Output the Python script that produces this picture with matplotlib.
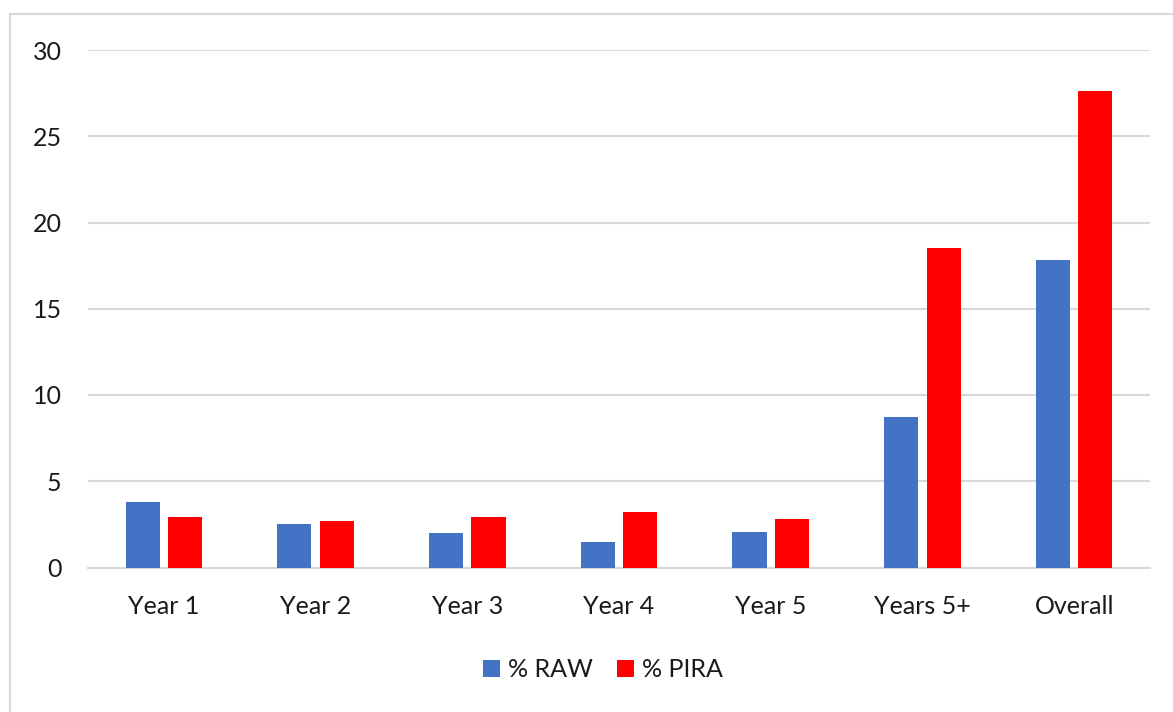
import numpy as np
import matplotlib.pyplot as plt
from matplotlib.patches import Rectangle

categories = ["Year 1", "Year 2", "Year 3", "Year 4", "Year 5", "Years 5+", "Overall"]
raw = [3.8, 2.5, 2.0, 1.5, 2.05, 8.7, 17.8]
pira = [2.95, 2.7, 2.95, 3.2, 2.8, 18.55, 27.6]

plt.rcParams['font.family'] = ['Lato', 'DejaVu Sans']

fig = plt.figure(figsize=(11.73, 7.12), dpi=100)
# outer chart frame
fig.patches.append(Rectangle((10 / 1173, -0.1), 1.2, 1 - 14 / 712 + 0.1,
                             transform=fig.transFigure, fill=False,
                             edgecolor='#d9d9d9', linewidth=1.5))

ax = fig.add_axes([88 / 1173, 1 - 567.5 / 712, (1150 - 88) / 1173, (567.5 - 50) / 712])

x = np.arange(len(categories))
w = 0.225
off = 0.14
ax.bar(x - off, raw, w, color='#4472C4', label='% RAW', zorder=3)
ax.bar(x + off, pira, w, color='#FF0000', label='% PIRA', zorder=3)

ax.set_xlim(-0.5, len(categories) - 0.5)
ax.set_ylim(0, 30)
ax.set_yticks(np.arange(0, 31, 5))
ax.set_xticks(x)
ax.set_xticklabels(categories)
ax.yaxis.grid(True, color='#d9d9d9', linewidth=1.5, zorder=0)
for s in ['top', 'right', 'left']:
    ax.spines[s].set_visible(False)
ax.spines['bottom'].set_color('#d9d9d9')
ax.spines['bottom'].set_linewidth(1.5)
ax.tick_params(axis='both', length=0, labelsize=18, colors='#1a1a1a')
ax.tick_params(axis='y', pad=19)
ax.tick_params(axis='x', pad=20)

ax.legend(loc='center', bbox_to_anchor=(0.485, -0.198), ncol=2, frameon=False,
          fontsize=18, handlelength=0.68, handleheight=0.68, handletextpad=0.32,
          columnspacing=0.95, labelcolor='#1a1a1a')

fig.savefig('out.png', dpi=100)
